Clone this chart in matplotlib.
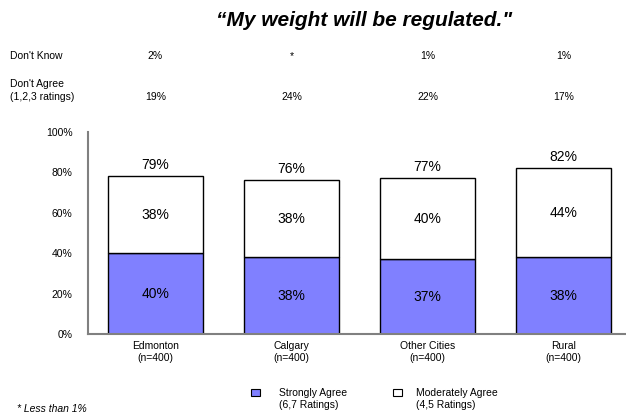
import matplotlib
matplotlib.use("Agg")
import matplotlib.pyplot as plt
from matplotlib.patches import Rectangle

plt.rcParams['font.family'] = ['Liberation Sans', 'DejaVu Sans']

categories = ["Edmonton\n(n=400)", "Calgary\n(n=400)", "Other Cities\n(n=400)", "Rural\n(n=400)"]
strongly_agree = [40, 38, 37, 38]
moderately_agree = [38, 38, 40, 44]
total_labels = ["79%", "76%", "77%", "82%"]
dont_know = ["2%", "*", "1%", "1%"]
dont_agree = ["19%", "24%", "22%", "17%"]
yticks = [0, 20, 40, 60, 80, 100]

W, H = 626, 413
fig = plt.figure(figsize=(W/100, H/100), dpi=100)

def fx(px): return px / W
def fy(py): return 1 - py / H

ax = fig.add_axes([fx(88), fy(334), fx(626) - fx(88), fy(132) - fy(334)])
x = list(range(len(categories)))
blue = "#8080FF"
ax.bar(x, strongly_agree, width=0.7, color=blue, edgecolor="black", linewidth=1)
ax.bar(x, moderately_agree, bottom=strongly_agree, width=0.7, color="white", edgecolor="black", linewidth=1)
ax.set_xlim(-0.496, 3.46)
ax.set_ylim(0, 100)
ax.set_yticks(yticks)
ax.set_yticklabels([f"{v}%" for v in yticks], fontsize=7.5)
ax.tick_params(axis='y', length=0, pad=11)
ax.set_xticks(x)
ax.set_xticklabels(categories, fontsize=7.5)
ax.tick_params(axis='x', length=0, pad=5)
for s in ["top", "right"]:
    ax.spines[s].set_visible(False)
for s in ["left", "bottom"]:
    ax.spines[s].set_color("#808080")
    ax.spines[s].set_linewidth(1.5)

for i in x:
    sa = strongly_agree[i]; ma = moderately_agree[i]
    ax.text(i, sa / 2, f"{sa}%", ha="center", va="center", fontsize=10)
    ax.text(i, sa + ma / 2, f"{ma}%", ha="center", va="center", fontsize=10)
    ax.text(i, sa + ma + 2, total_labels[i], ha="center", va="bottom", fontsize=10)

# Title
fig.text(fx(364), fy(20), "\u201cMy weight will be regulated.\"", ha="center", va="center",
         fontsize=15, fontweight="bold", fontstyle="italic")

# Header rows
fig.text(fx(10), fy(56), "Don't Know", ha="left", va="center", fontsize=7.5)
fig.text(fx(10), fy(84), "Don't Agree", ha="left", va="center", fontsize=7.5)
fig.text(fx(10), fy(97), "(1,2,3 ratings)", ha="left", va="center", fontsize=7.5)
for i in x:
    xd = ax.transData.transform((i, 0))[0] / fig.bbox.width
    fig.text(xd, fy(56), dont_know[i], ha="center", va="center", fontsize=7.5)
    fig.text(xd, fy(97), dont_agree[i], ha="center", va="center", fontsize=7.5)

# Legend
fig.patches.append(Rectangle((fx(251), fy(396)), 9/W, 7/H, transform=fig.transFigure,
                             facecolor=blue, edgecolor="black", linewidth=0.8))
fig.text(fx(279), fy(398.5), "Strongly Agree\n(6,7 Ratings)", ha="left", va="center", fontsize=7.5, linespacing=1.25)
fig.patches.append(Rectangle((fx(393), fy(396)), 9/W, 7/H, transform=fig.transFigure,
                             facecolor="white", edgecolor="black", linewidth=0.8))
fig.text(fx(416), fy(398.5), "Moderately Agree\n(4,5 Ratings)", ha="left", va="center", fontsize=7.5, linespacing=1.25)

fig.text(fx(17), fy(409), "* Less than 1%", ha="left", va="center", fontsize=7.5, fontstyle="italic")

fig.savefig("out.png", dpi=100)
